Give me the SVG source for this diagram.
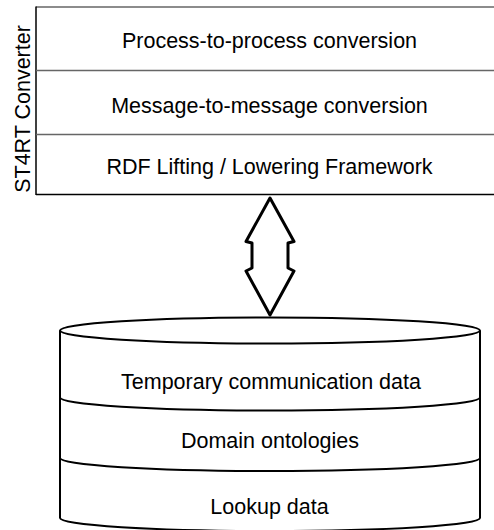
<svg xmlns="http://www.w3.org/2000/svg" width="494" height="530" viewBox="0 0 494 530">
  <style>
    .t { font-family: "Liberation Sans", Arial, sans-serif; font-size: 21.5px; fill: #000; text-anchor: middle; }
    .div { stroke: #666; stroke-width: 1.5; fill: none; }
    .edge { stroke: #000; stroke-width: 1.5; fill: none; }
    .cyl { stroke: #000; stroke-width: 2; fill: none; }
  </style>
  <rect width="494" height="530" fill="#fff"/>
  <g id="converter">
    <line class="div" x1="36" y1="7" x2="494" y2="7"/>
    <line class="edge" x1="36" y1="6.5" x2="36" y2="195"/>
    <line class="edge" x1="36" y1="194.5" x2="494" y2="194.5"/>
    <text class="t" transform="translate(30,109) rotate(-90)">ST4RT Converter</text>
  </g>
  <g id="process">
    <text class="t" x="269.5" y="48">Process-to-process conversion</text>
  </g>
  <g id="message">
    <line class="div" x1="36" y1="70.5" x2="494" y2="70.5"/>
    <text class="t" x="269.5" y="112.5">Message-to-message conversion</text>
  </g>
  <g id="rdf">
    <line class="div" x1="36" y1="134.5" x2="494" y2="134.5"/>
    <text class="t" x="269.5" y="173.5">RDF Lifting / Lowering Framework</text>
  </g>
  <g id="database">
    <ellipse class="cyl" cx="270" cy="330.5" rx="210" ry="13" fill="#fff"/>
    <path class="cyl" d="M60,330.5 L60,518 A210,13 0 0 0 480,518 L480,330.5"/>
    <text class="t" x="271" y="388.5">Temporary communication data</text>
  </g>
  <g id="ontologies">
    <path class="cyl" d="M60,397.5 A210,13 0 0 0 480,397.5"/>
    <text class="t" x="270" y="448">Domain ontologies</text>
  </g>
  <g id="lookup">
    <path class="cyl" d="M60,458 A210,13 0 0 0 480,458"/>
    <text class="t" x="269.5" y="513.5">Lookup data</text>
  </g>
  <g id="connectors">
    <path d="M270,198 L294,241.5 L288,243 L288,268 L294,271 L270,315 L246,271 L252,268 L252,243 L246,241.5 Z" fill="#fff" stroke="#000" stroke-width="3" stroke-linejoin="round"/>
  </g>
</svg>
